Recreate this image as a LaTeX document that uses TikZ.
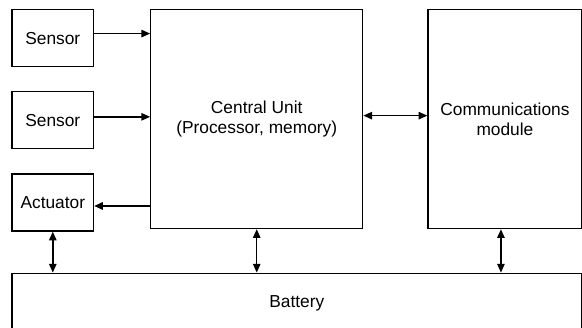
\documentclass[tikz,border=0pt]{standalone}
\usepackage{fontspec}
\setmainfont{Liberation Sans}
\usetikzlibrary{arrows.meta,positioning}

\begin{document}
\begin{tikzpicture}[>={Triangle[length=6.5pt,width=5.5pt]},
    block/.style={draw, line width=0.9pt, inner sep=0pt, align=center, font=\fontsize{13}{15}\selectfont},
    unit/.style={block, minimum width=61.1pt, minimum height=42.75pt},
    module/.style={block, minimum height=164.25pt},
    link/.style={line width=1.1pt}]
    \useasboundingbox (0,0) rectangle (436.5pt,-246pt);

    \node[unit, anchor=north west] (S1) at (8.6pt,-6.75pt) {Sensor};
    \node[unit, below=18pt of S1] (S2) {Sensor};
    \node[unit, below=18pt of S2] (Act) {Actuator};
    \node[module, minimum width=159pt, right=42pt of S1.north east, anchor=north west] (CU) {Central Unit\\(Processor, memory)};
    \node[module, minimum width=115.5pt, right=48pt of CU.north east, anchor=north west] (CM) {Communications\\module};
    \node[block, minimum width=427.1pt, minimum height=45.75pt, below=30.75pt of Act.south west, anchor=north west] (Bat) {Battery};

    \draw[link, ->] ([yshift=3.4pt]S1.east) -- ([yshift=3.4pt]S1.east -| CU.west);
    \draw[link, ->] ([yshift=2.6pt]S2.east) -- ([yshift=2.6pt]S2.east -| CU.west);
    \draw[link, ->, line width=1.4pt] ([yshift=-2.6pt]Act.east -| CU.west) -- ([yshift=-2.6pt]Act.east);
    \draw[link, <->] ([yshift=2.6pt]CU.east) -- ([yshift=2.6pt]CU.east -| CM.west);
    \draw[link, <->] (Act.south) -- (Act.south |- Bat.north);
    \draw[link, <->] (CU.south) -- (CU.south |- Bat.north);
    \draw[link, <->] ([xshift=-3pt]CM.south) -- ([xshift=-3pt]CM.south |- Bat.north);
\end{tikzpicture}
\end{document}
